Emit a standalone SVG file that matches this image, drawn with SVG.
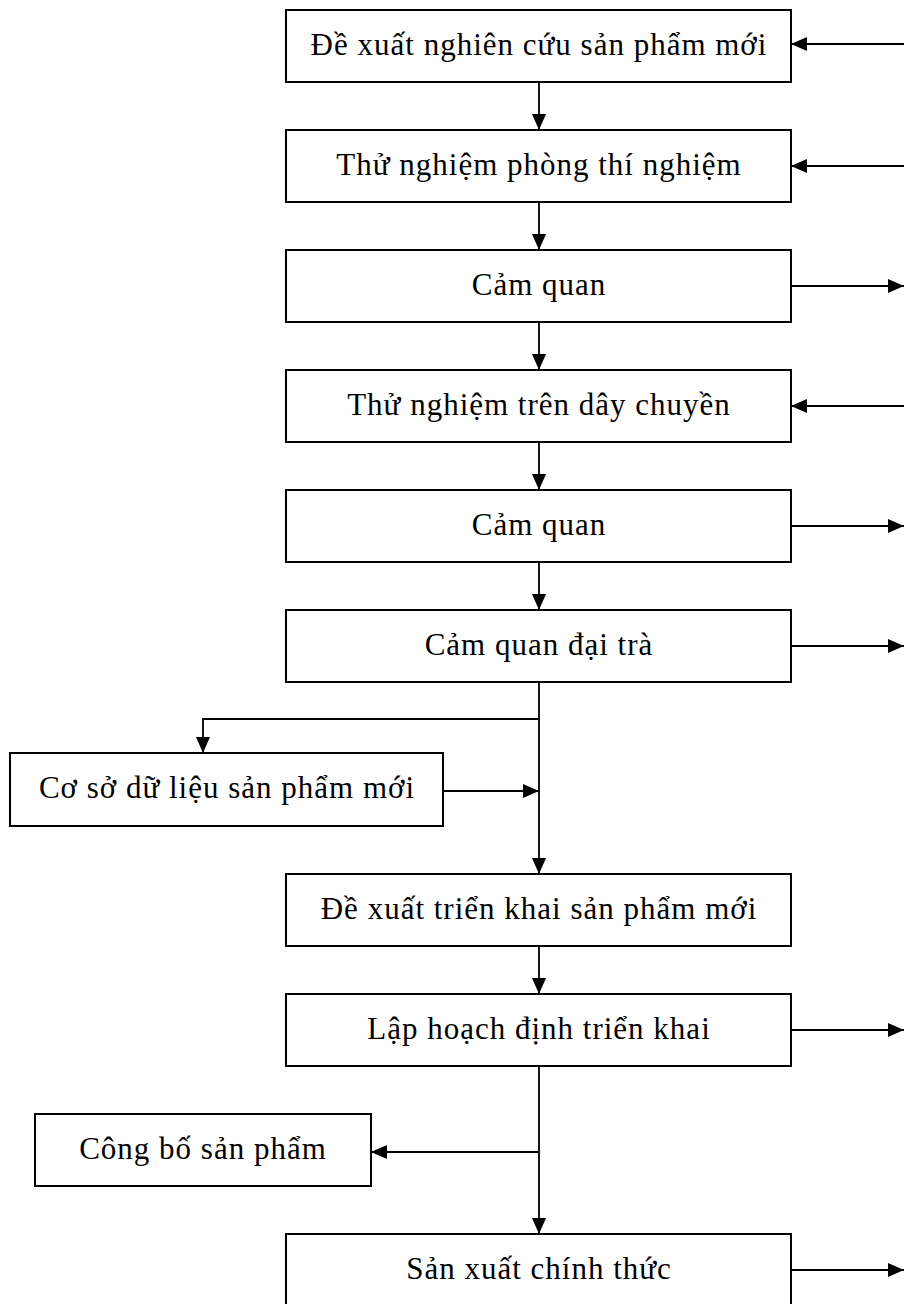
<svg xmlns="http://www.w3.org/2000/svg" width="904" height="1304" viewBox="0 0 904 1304">
<defs>
<style>
.box{fill:#fff;stroke:#000;stroke-width:2}
.lbl{font-family:"Liberation Serif","Times New Roman",serif;font-size:31px;letter-spacing:1px;text-anchor:middle;fill:#000}
.con{fill:none;stroke:#000;stroke-width:1.8}
</style>
<marker id="ah" viewBox="0 0 16 14" refX="16" refY="7" markerWidth="16" markerHeight="14" markerUnits="userSpaceOnUse" orient="auto">
<path d="M0,0 L16,7 L0,14 z" fill="#000"/>
</marker>
</defs>
<rect width="904" height="1304" fill="#fff"/>
<g id="connectors">
<path class="con" d="M539,82 V130" marker-end="url(#ah)"/>
<path class="con" d="M539,202 V250" marker-end="url(#ah)"/>
<path class="con" d="M539,322 V370" marker-end="url(#ah)"/>
<path class="con" d="M539,442 V490" marker-end="url(#ah)"/>
<path class="con" d="M539,562 V610" marker-end="url(#ah)"/>
<path class="con" d="M539,682 V874" marker-end="url(#ah)"/>
<path class="con" d="M539,719 H203 V753" marker-end="url(#ah)"/>
<path class="con" d="M443,791 H539" marker-end="url(#ah)"/>
<path class="con" d="M539,946 V994" marker-end="url(#ah)"/>
<path class="con" d="M539,1066 V1234" marker-end="url(#ah)"/>
<path class="con" d="M539,1152 H371" marker-end="url(#ah)"/>
<path class="con" d="M904,44 H791" marker-end="url(#ah)"/>
<path class="con" d="M904,166 H791" marker-end="url(#ah)"/>
<path class="con" d="M791,286 H904" marker-end="url(#ah)"/>
<path class="con" d="M904,406 H791" marker-end="url(#ah)"/>
<path class="con" d="M791,526 H904" marker-end="url(#ah)"/>
<path class="con" d="M791,646 H904" marker-end="url(#ah)"/>
<path class="con" d="M791,1030 H904" marker-end="url(#ah)"/>
<path class="con" d="M791,1270 H904" marker-end="url(#ah)"/>
</g>
<g id="n1"><rect class="box" x="286" y="10" width="505" height="72"/><text class="lbl" x="539" y="55">Đề xuất nghiên cứu sản phẩm mới</text></g>
<g id="n2"><rect class="box" x="286" y="130" width="505" height="72"/><text class="lbl" x="539" y="175">Thử nghiệm phòng thí nghiệm</text></g>
<g id="n3"><rect class="box" x="286" y="250" width="505" height="72"/><text class="lbl" x="539" y="295">Cảm quan</text></g>
<g id="n4"><rect class="box" x="286" y="370" width="505" height="72"/><text class="lbl" x="539" y="415">Thử nghiệm trên dây chuyền</text></g>
<g id="n5"><rect class="box" x="286" y="490" width="505" height="72"/><text class="lbl" x="539" y="535">Cảm quan</text></g>
<g id="n6"><rect class="box" x="286" y="610" width="505" height="72"/><text class="lbl" x="539" y="655">Cảm quan đại trà</text></g>
<g id="n7"><rect class="box" x="10" y="753" width="433" height="73"/><text class="lbl" x="227" y="798">Cơ sở dữ liệu sản phẩm mới</text></g>
<g id="n8"><rect class="box" x="286" y="874" width="505" height="72"/><text class="lbl" x="539" y="919">Đề xuất triển khai sản phẩm mới</text></g>
<g id="n9"><rect class="box" x="286" y="994" width="505" height="72"/><text class="lbl" x="539" y="1039">Lập hoạch định triển khai</text></g>
<g id="n10"><rect class="box" x="35" y="1114" width="336" height="72"/><text class="lbl" x="203" y="1159">Công bố sản phẩm</text></g>
<g id="n11"><rect class="box" x="286" y="1234" width="505" height="72"/><text class="lbl" x="539" y="1279">Sản xuất chính thức</text></g>
</svg>
